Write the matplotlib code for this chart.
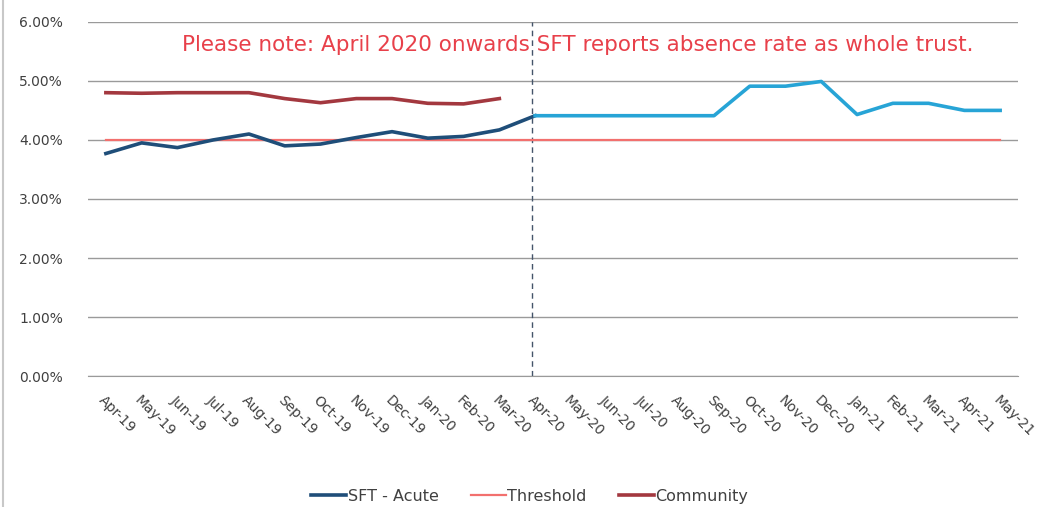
import matplotlib.pyplot as plt
from matplotlib.lines import Line2D
from matplotlib.ticker import PercentFormatter

months = ["Apr-19", "May-19", "Jun-19", "Jul-19", "Aug-19", "Sep-19", "Oct-19",
          "Nov-19", "Dec-19", "Jan-20", "Feb-20", "Mar-20", "Apr-20", "May-20",
          "Jun-20", "Jul-20", "Aug-20", "Sep-20", "Oct-20", "Nov-20", "Dec-20",
          "Jan-21", "Feb-21", "Mar-21", "Apr-21", "May-21"]

# SFT - Acute, Apr-19 .. Apr-20
sft_acute = [3.77, 3.95, 3.87, 4.00, 4.10, 3.90, 3.93, 4.04, 4.14, 4.03, 4.06, 4.17, 4.41]
# SFT whole trust, Apr-20 .. May-21
sft_trust = [4.41, 4.41, 4.41, 4.41, 4.41, 4.41, 4.91, 4.91, 4.99, 4.43, 4.62, 4.62, 4.50, 4.50]
# Community, Apr-19 .. Mar-20
community = [4.80, 4.79, 4.80, 4.80, 4.80, 4.70, 4.63, 4.70, 4.70, 4.62, 4.61, 4.70]
threshold = [4.00] * len(months)

note = "Please note: April 2020 onwards SFT reports absence rate as whole trust."

fig = plt.figure(figsize=(10.45, 5.07), dpi=100)
ax = fig.add_axes([0.0842, 0.258, 0.890, 0.699])

x = list(range(len(months)))
ax.plot(x[:len(sft_acute)], sft_acute, color="#1F4E79", lw=2.6, label="SFT - Acute", zorder=4)
ax.plot(x[12:12 + len(sft_trust)], sft_trust, color="#27A4D6", lw=2.6, zorder=4)
ax.plot(x, threshold, color="#F2706E", lw=1.6, label="Threshold", zorder=3)
ax.plot(x[:len(community)], community, color="#A3383F", lw=2.6, label="Community", zorder=4)

ax.axvline(11.92, color="#44546A", lw=1.0, ls=(0, (4, 3)), zorder=2)

ax.set_ylim(0, 6)
ax.set_xlim(-0.5, len(months) - 0.5)
ax.set_yticks(range(0, 7))
ax.yaxis.set_major_formatter(PercentFormatter(decimals=2))
ax.grid(axis="y", color="#9A9A9A", lw=1.0)
ax.set_axisbelow(True)
for s in ax.spines.values():
    s.set_visible(False)
ax.spines["bottom"].set_visible(True)
ax.spines["bottom"].set_color("#9A9A9A")
ax.tick_params(axis="y", length=0, pad=18, labelsize=10, labelcolor="#404040")
ax.tick_params(axis="x", length=0, pad=12)
ax.set_xticks(x)
ax.set_xticklabels(months, rotation=-45, ha="left", va="top",
                   rotation_mode="anchor", fontsize=10, color="#404040")

ax.text(0.527, 0.935, note, transform=ax.transAxes, ha="center", va="center",
        fontsize=15.5, color="#E8404A")

ax.legend(loc="lower center", bbox_to_anchor=(0.475, -0.40), ncol=3, frameon=False,
          fontsize=11.5, handlelength=2.2, handletextpad=0.1, columnspacing=2.0,
          labelcolor="#404040")

fig.add_artist(Line2D([0.003, 0.003], [0, 1], color="#C8C8C8", lw=1.5))

fig.savefig("out.png", dpi=100)
